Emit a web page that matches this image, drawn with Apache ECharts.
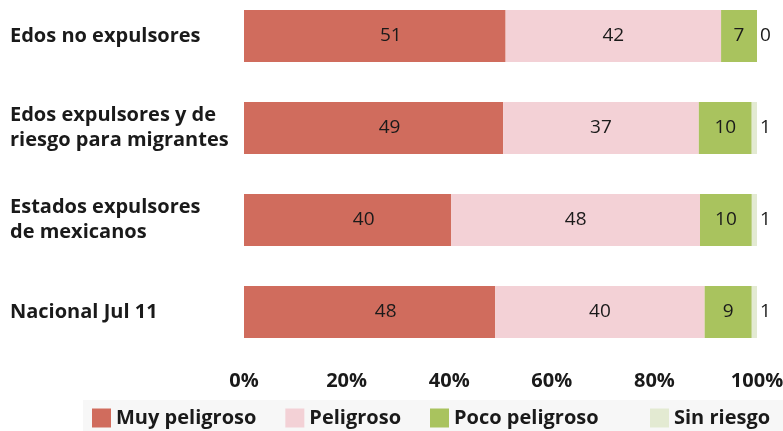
<!DOCTYPE html>
<html>
<head>
<meta charset="utf-8">
<script src="https://cdn.jsdelivr.net/npm/echarts@6/dist/echarts.min.js"></script>
<style>
  html, body { margin: 0; padding: 0; background: #fff; }
  #chart { width: 783px; height: 431px; }
</style>
</head>
<body>
<div id="chart"></div>
<script>
const categories = [
  "Edos no expulsores",
  "Edos expulsores y de\nriesgo para migrantes",
  "Estados expulsores\nde mexicanos",
  "Nacional Jul 11"
];
const seriesNames = ["Muy peligroso", "Peligroso", "Poco peligroso", "Sin riesgo"];
const muyPeligroso = [51, 49, 40, 48];
const peligroso = [42, 37, 48, 40];
const pocoPeligroso = [7, 10, 10, 9];
const sinRiesgo = [0, 1, 1, 1];
const tickLabels = ["0%", "20%", "40%", "60%", "80%", "100%"];

const colors = ["#d06c5d", "#f3d1d6", "#a9c35e", "#e3ead2"];
const font = "'Open Sans', sans-serif";

// 100% stacked: each row is normalised, labels keep the raw value
const raw = [muyPeligroso, peligroso, pocoPeligroso, sinRiesgo];
const totals = categories.map((c, i) => raw.reduce((s, arr) => s + arr[i], 0));

const chart = echarts.init(document.getElementById("chart"));

const series = raw.map((arr, k) => ({
  name: seriesNames[k],
  type: "bar",
  stack: "total",
  barWidth: 52,
  itemStyle: { color: colors[k] },
  label: {
    show: true,
    position: k === 3 ? "right" : "inside",
    offset: k === 0 ? [16, 0] : [0, 0],
    distance: 3,
    color: "#1a1a1a",
    fontFamily: font,
    fontSize: 19,
    formatter: p => arr[p.dataIndex]
  },
  data: arr.map((v, i) => v / totals[i] * 100)
}));

const legendText = { fontFamily: font, fontSize: 20, fontWeight: "bold", color: "#1a1a1a" };

chart.setOption({
  animation: false,
  grid: { left: 244, right: 26, top: -10, height: 368, outerBoundsMode: "none" },
  // faint band behind the legend
  graphic: [{
    type: "rect",
    left: 83, bottom: 0,
    shape: { width: 700, height: 31 },
    style: { fill: "#f7f7f7" },
    z: -1
  }],
  legend: [{
    bottom: 1,
    left: 82,
    itemWidth: 19,
    itemHeight: 19,
    itemGap: 29,
    icon: "rect",
    padding: [2, 10],
    textStyle: legendText,
    data: seriesNames.slice(0, 3)
  }, {
    bottom: 1,
    left: 640,
    itemWidth: 19,
    itemHeight: 19,
    icon: "rect",
    padding: [2, 10],
    textStyle: legendText,
    data: seriesNames.slice(3)
  }],
  xAxis: {
    type: "value",
    min: 0,
    max: 100,
    interval: 20,
    axisLine: { show: false },
    axisTick: { show: false },
    splitLine: { show: false },
    axisLabel: {
      margin: 13,
      fontFamily: font,
      fontSize: 20,
      fontWeight: "bold",
      color: "#1a1a1a",
      formatter: v => tickLabels[v / 20]
    }
  },
  yAxis: {
    type: "category",
    inverse: true,
    data: categories,
    axisLine: { show: false },
    axisTick: { show: false },
    axisLabel: {
      align: "left",
      margin: 234,
      fontFamily: font,
      fontSize: 20,
      fontWeight: "bold",
      lineHeight: 25,
      color: "#1a1a1a"
    }
  },
  series
});
</script>
</body>
</html>
